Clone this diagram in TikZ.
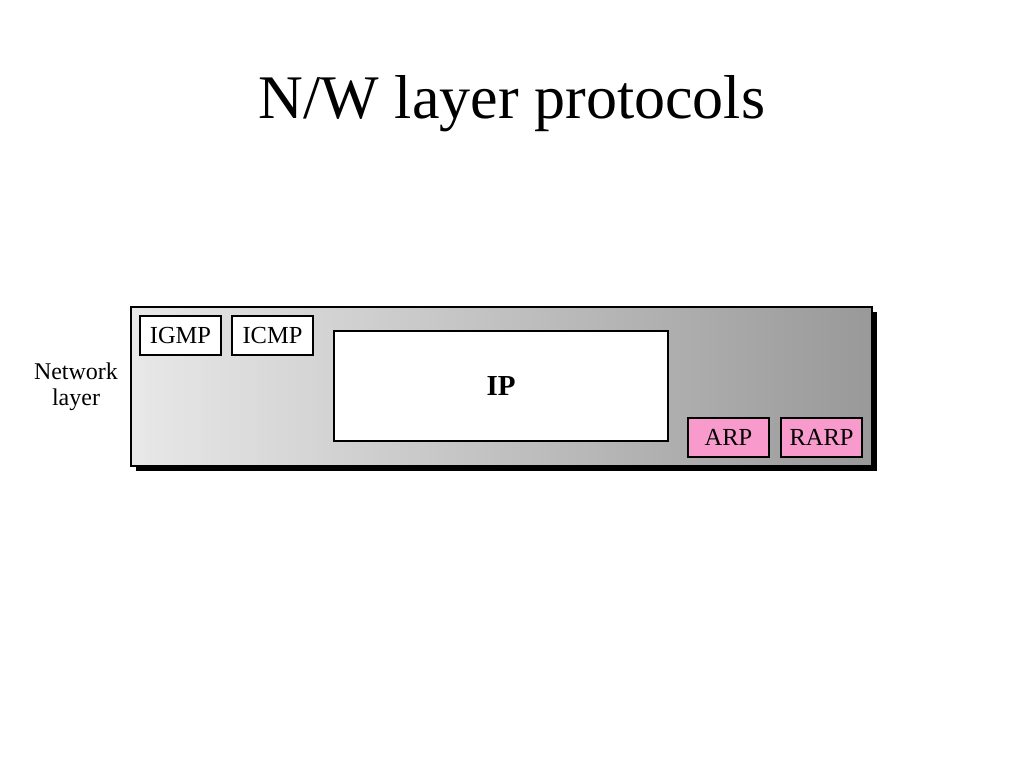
\documentclass[tikz,border=0pt]{standalone}
\usepackage{fontspec}
\setmainfont{Liberation Serif}
\usetikzlibrary{positioning,shadows}
\definecolor{protopink}{RGB}{248,154,204}

\begin{document}
\begin{tikzpicture}[x=1pt,y=1pt,
    proto/.style={draw,rectangle,line width=1.2pt,inner sep=0pt,outer sep=0pt,
      minimum width=81pt,minimum height=39pt,font=\fontsize{24.5}{26}\selectfont},
    pinkproto/.style={proto,fill=protopink}]
      \useasboundingbox (0,0) rectangle (1024,768);

      \node[anchor=base,font=\fontsize{62}{70}\selectfont] (title) at (512,649) {N/W layer protocols};

      \node[draw,rectangle,line width=1.2pt,inner sep=0pt,outer sep=0pt,
        minimum width=741pt,minimum height=159pt,
        left color=gray!18,middle color=gray!26,right color=gray!80,
        drop shadow={shadow xshift=5pt,shadow yshift=-5pt,fill=black,opacity=1}]
        (layer) at (501.5,381.5) {};

      \node[proto,fill=white] (igmp) at (180.5,432.5) {IGMP};
      \node[proto,fill=white,right = 11pt of igmp] (icmp) {ICMP};

      \node[proto,fill=white,minimum width=334pt,minimum height=110pt,
        font=\fontsize{29}{31}\selectfont\bfseries] (ip) at (501,382) {IP};

      \node[pinkproto] (arp) at (728.5,330.5) {ARP};
      \node[pinkproto,right = 12pt of arp] (rarp) {RARP};

      \node[align=center,font=\fontsize{24}{26}\selectfont] (nl) at (76,381) {Network\\layer};
    \end{tikzpicture}
\end{document}
